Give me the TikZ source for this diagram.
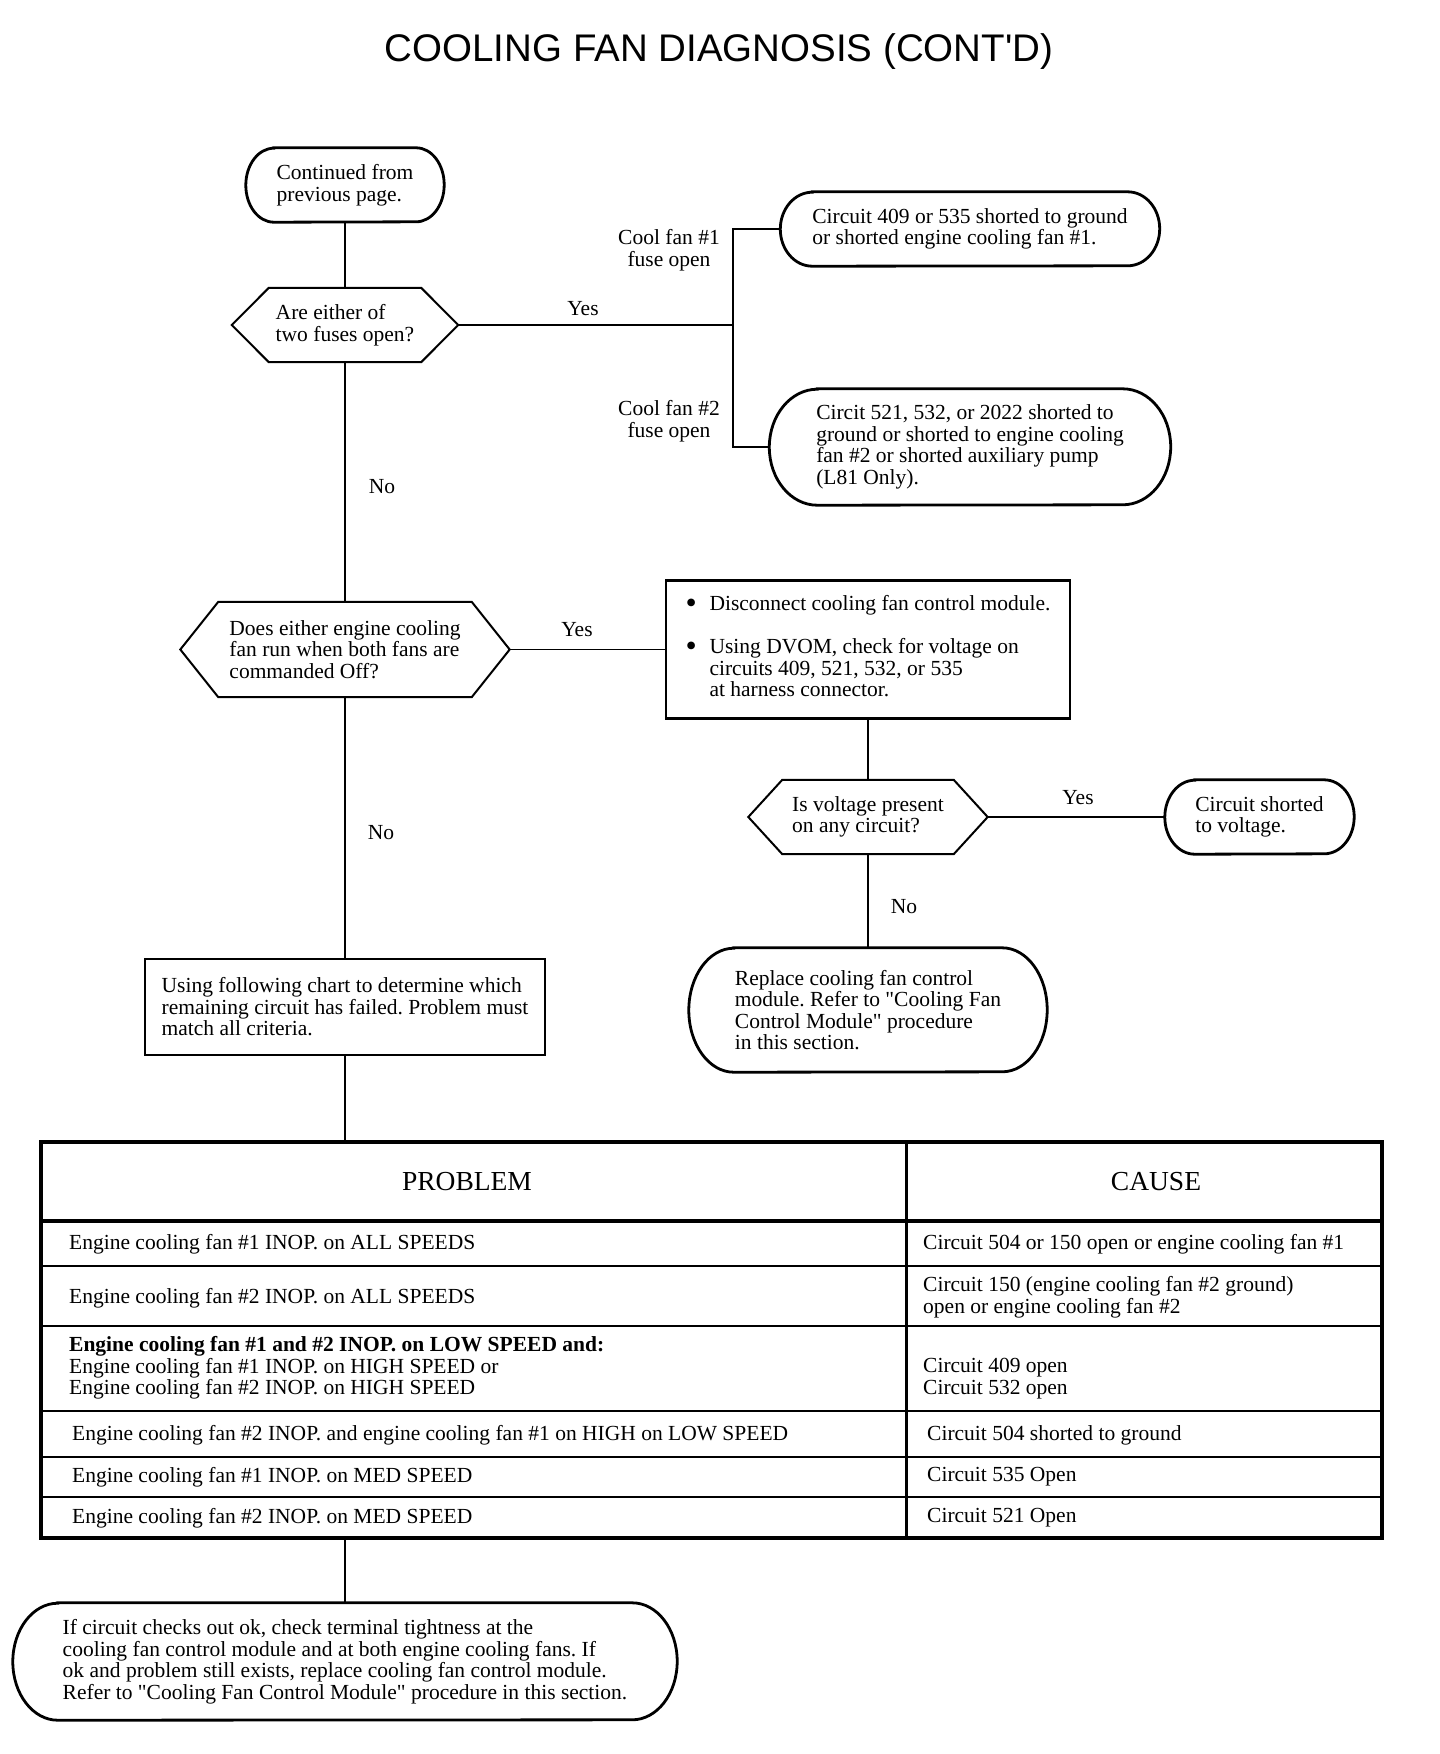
\documentclass[tikz,border=0pt]{standalone}
\usepackage{fontspec}
\setmainfont{Liberation Serif}[Ligatures=TeXOff]
\newfontfamily\titlefont{Liberation Sans}
\newcommand\fs{\fontsize{21.5}{21.5}\selectfont}
\newcommand\hfs{\fontsize{27.5}{27.5}\selectfont}
\newcommand\bul{\raisebox{-2.5pt}{\fontsize{32}{21.5}\selectfont\textbullet}}
\newcommand\mystadium[3]{\draw[stadline] ([xshift=#2]#1.north west) -- ([xshift=-#2]#1.north east) arc[start angle=-90,end angle=90,x radius=#2,y radius=#3] -- ([xshift=#2]#1.south west) arc[start angle=90,end angle=270,x radius=#2,y radius=#3] -- cycle;}
\newcommand\myhex[2]{\draw[hexline] (#1.west) -- ([xshift=#2]#1.north west) -- ([xshift=-#2]#1.north east) -- (#1.east) -- ([xshift=-#2]#1.south east) -- ([xshift=#2]#1.south west) -- cycle;}
\tikzset{
  conn/.style={line width=1.8pt},
  stadline/.style={line width=2.8pt},
  hexline/.style={line width=2pt},
  shapebox/.style={inner sep=0pt, align=left, font=\fs},
  rectbox/.style={draw, line width=2.8pt, inner sep=0pt, align=left, font=\fs},
  lbl/.style={inner sep=0pt, font=\fs, align=center},
  cell/.style={inner sep=0pt, anchor=west, align=left, font=\fs},
  tblthick/.style={line width=3.6pt},
  tblthin/.style={line width=2pt},
}
\begin{document}
\frenchspacing
\begin{tikzpicture}[x=1pt,y=-1pt]
\useasboundingbox (0,0) rectangle (1440,1754);
\fill[white] (0,0) rectangle (1440,1754);
% title
\node[inner sep=0pt, font=\titlefont\fontsize{38.5}{38.5}\selectfont] (title) at (719,52) {COOLING FAN DIAGNOSIS (CONT'D)};
% nodes
\node[shapebox, minimum width=198, minimum height=74] (start) at (345,185) {Continued from\\previous page.};
\mystadium{start}{28}{37}
\node[shapebox, minimum width=226, minimum height=74] (hex1) at (345,325) {Are either of\\two fuses open?};
\myhex{hex1}{37}
\node[shapebox, minimum width=379, minimum height=74] (c409) at (970,229) {Circuit 409 or 535 shorted to ground\\or shorted engine cooling fan \#1.};
\mystadium{c409}{32}{37}
\node[shapebox, minimum width=401, minimum height=116] (c521) at (970,447) {Circit 521, 532, or 2022 shorted to\\ground or shorted to engine cooling\\fan \#2 or shorted auxiliary pump\\(L81 Only).};
\mystadium{c521}{48}{58}
\node[shapebox, minimum width=329, minimum height=95] (hex2) at (345,649.5) {Does either engine cooling\\fan run when both fans are\\commanded Off?};
\myhex{hex2}{38}
\node[rectbox, minimum width=404, minimum height=138] (dvom) at (868,649.5) {\begin{tabular}{@{}p{24pt}@{}l@{}}\bul & Disconnect cooling fan control module.\\[21.5pt] \bul & Using DVOM, check for voltage on\\ & circuits 409, 521, 532, or 535\\ & at harness connector.\end{tabular}};
\node[shapebox, minimum width=239, minimum height=74] (hex3) at (868,817) {Is voltage present\\on any circuit?};
\myhex{hex3}{34}
\node[shapebox, minimum width=189, minimum height=74] (short) at (1259.5,817) {Circuit shorted\\to voltage.};
\mystadium{short}{30}{37}
\node[shapebox, minimum width=358, minimum height=124] (repl) at (868,1010) {Replace cooling fan control\\module. Refer to "Cooling Fan\\Control Module" procedure\\in this section.};
\mystadium{repl}{45}{62}
\node[rectbox, minimum width=400, minimum height=96] (chart) at (345,1007) {Using following chart to determine which\\remaining circuit has failed. Problem must\\match all criteria.};
\node[inner sep=0pt, minimum width=1341, minimum height=396] (tbl) at (711.5,1340) {};
\node[shapebox, minimum width=664, minimum height=117] (final) at (345,1661.5) {If circuit checks out ok, check terminal tightness at the\\cooling fan control module and at both engine cooling fans. If\\ok and problem still exists, replace cooling fan control module.\\Refer to "Cooling Fan Control Module" procedure in this section.};
\mystadium{final}{45}{58.5}
% labels
\node[lbl] (fuse1) at (669,250) {Cool fan \#1\\fuse open};
\node[lbl] (fuse2) at (669,421) {Cool fan \#2\\fuse open};
\node[lbl] (yes1) at (583,309) {Yes};
\node[lbl] (no1) at (382,487) {No};
\node[lbl] (yes2) at (577,630) {Yes};
\node[lbl] (no2) at (381,833) {No};
\node[lbl] (yes3) at (1078,798) {Yes};
\node[lbl] (no3) at (904,907) {No};
% connectors
\coordinate (brx) at (733,325);
\draw[conn] (start.south) -- (hex1.north);
\draw[conn] (hex1.east) -- (brx);
\draw[conn] (c409.west) -- (c409.west -| brx) -- (c521.west -| brx) -- (c521.west);
\draw[conn] (hex1.south) -- (hex2.north);
\draw[conn] (hex2.east) -- (dvom.west);
\draw[conn] (dvom.south) -- (hex3.north);
\draw[conn] (hex3.east) -- (short.west);
\draw[conn] (hex3.south) -- (repl.north);
\draw[conn] (hex2.south) -- (chart.north);
\draw[conn] (chart.south) -- (chart.south |- tbl.north);
\draw[conn] (chart.south |- tbl.south) -- (chart.south |- final.north);
% table
\draw[tblthick] (tbl.north west) rectangle (tbl.south east);
\draw[tblthick] (41,1221) -- (1382,1221);
\draw[line width=3pt] (906,1142) -- (906,1538);
\foreach \yy in {1266,1326,1411,1457,1497} {\draw[tblthin] (41,\yy) -- (1382,\yy);}
\node[inner sep=0pt, font=\hfs] (hprob) at (467,1182) {PROBLEM};
\node[inner sep=0pt, font=\hfs] (hcause) at (1156,1182) {CAUSE};
\node[cell] (p1) at (69,1244) {Engine cooling fan \#1 INOP. on ALL SPEEDS};
\node[cell] (c1) at (923,1244) {Circuit 504 or 150 open or engine cooling fan \#1};
\node[cell] (p2) at (69,1298) {Engine cooling fan \#2 INOP. on ALL SPEEDS};
\node[cell] (c2) at (923,1297) {Circuit 150 (engine cooling fan \#2 ground)\\open or engine cooling fan \#2};
\node[cell] (p3) at (69,1368) {\textbf{Engine cooling fan \#1 and \#2 INOP. on LOW SPEED and:}\\Engine cooling fan \#1 INOP. on HIGH SPEED or\\Engine cooling fan \#2 INOP. on HIGH SPEED};
\node[cell] (c3) at (923,1378.5) {Circuit 409 open\\Circuit 532 open};
\node[cell] (p4) at (72,1435) {Engine cooling fan \#2 INOP. and engine cooling fan \#1 on HIGH on LOW SPEED};
\node[cell] (c4) at (927,1435) {Circuit 504 shorted to ground};
\node[cell] (p5) at (72,1477) {Engine cooling fan \#1 INOP. on MED SPEED};
\node[cell] (c5) at (927,1477) {Circuit 535 Open};
\node[cell] (p6) at (72,1518) {Engine cooling fan \#2 INOP. on MED SPEED};
\node[cell] (c6) at (927,1518) {Circuit 521 Open};
\end{tikzpicture}
\end{document}
